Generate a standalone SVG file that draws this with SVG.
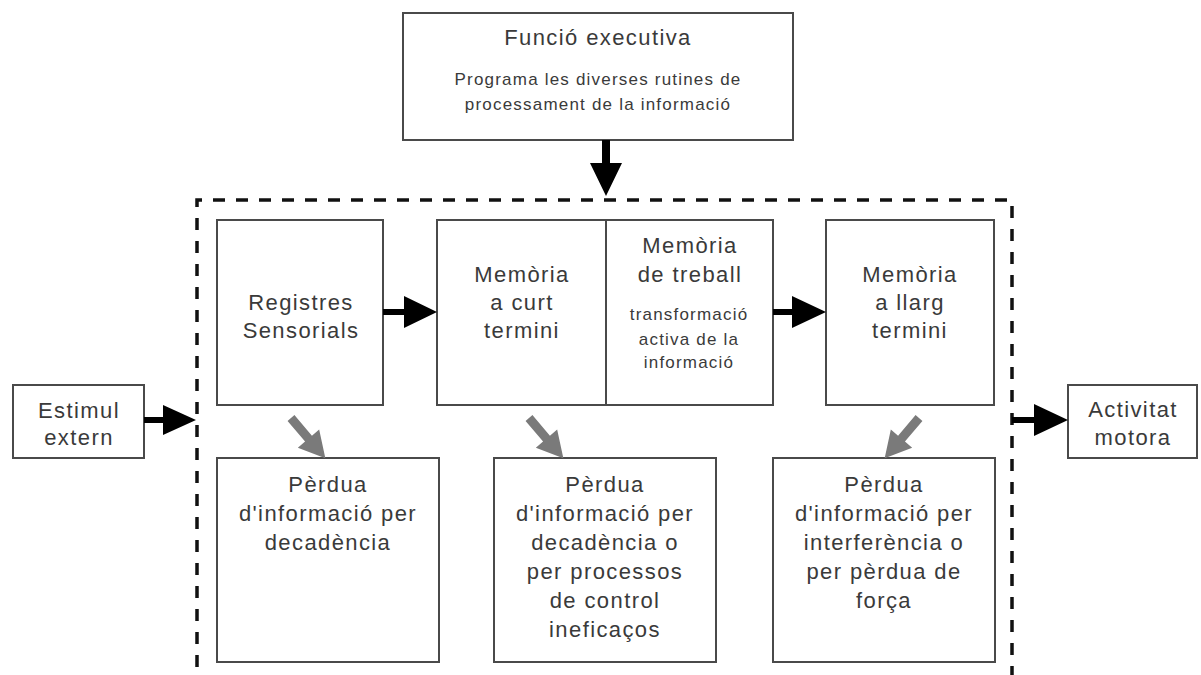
<svg xmlns="http://www.w3.org/2000/svg" width="1201" height="675" viewBox="0 0 1201 675">
<defs>
<style>
.box{fill:#fff;stroke:#4a4a4a;stroke-width:2}
.t{font-family:"Liberation Sans",Arial,sans-serif;font-size:22px;letter-spacing:1.4px;fill:#3a3a3a;text-anchor:middle}
.s{font-family:"Liberation Sans",Arial,sans-serif;font-size:17px;letter-spacing:1.2px;fill:#3a3a3a;text-anchor:middle}
.blk{fill:#000}
.gry{fill:#7a7a7a}
.dash{fill:none;stroke:#111;stroke-width:3.5;stroke-dasharray:12 11}
</style>
<path id="garrow" d="M0,-4.5 L27,-4.5 L27,-14 L53,0 L27,14 L27,4.5 L0,4.5 Z"/>
</defs>
<rect width="1201" height="675" fill="#fff"/>

<g id="container">
<path class="dash" d="M197,690 L197,200 L1012,200 L1012,690"/>
</g>

<g id="executive">
<rect class="box" x="403" y="13" width="390" height="127"/>
<text class="t" x="598" y="45">Funció executiva</text>
<text class="s" x="598" y="85">Programa les diverses rutines de</text>
<text class="s" x="598" y="110">processament de la informació</text>
</g>

<g id="stimulus">
<rect class="box" x="13" y="385" width="131" height="73"/>
<text class="t" x="79" y="418">Estimul</text>
<text class="t" x="79" y="445">extern</text>
</g>

<g id="motor">
<rect class="box" x="1068" y="385" width="129" height="73"/>
<text class="t" x="1133" y="417">Activitat</text>
<text class="t" x="1133" y="445">motora</text>
</g>

<g id="sensory">
<rect class="box" x="217" y="220" width="166" height="185"/>
<text class="t" x="301" y="310">Registres</text>
<text class="t" x="301" y="338">Sensorials</text>
</g>

<g id="short-term">
<rect class="box" x="437" y="220" width="169" height="185"/>
<text class="t" x="522" y="282">Memòria</text>
<text class="t" x="522" y="310">a curt</text>
<text class="t" x="522" y="338">termini</text>
</g>

<g id="working">
<rect class="box" x="606" y="220" width="167" height="185"/>
<text class="t" x="690" y="253">Memòria</text>
<text class="t" x="690" y="282">de treball</text>
<text class="s" x="689" y="320">transformació</text>
<text class="s" x="689" y="345">activa de la</text>
<text class="s" x="689" y="368">informació</text>
</g>

<g id="long-term">
<rect class="box" x="826" y="220" width="168" height="185"/>
<text class="t" x="910" y="282">Memòria</text>
<text class="t" x="910" y="310">a llarg</text>
<text class="t" x="910" y="338">termini</text>
</g>

<g id="loss1">
<rect class="box" x="217" y="458" width="222" height="204"/>
<text class="t" x="328" y="492">Pèrdua</text>
<text class="t" x="328" y="521">d'informació per</text>
<text class="t" x="328" y="550">decadència</text>
</g>

<g id="loss2">
<rect class="box" x="494" y="458" width="222" height="204"/>
<text class="t" x="605" y="492">Pèrdua</text>
<text class="t" x="605" y="521">d'informació per</text>
<text class="t" x="605" y="550">decadència o</text>
<text class="t" x="605" y="579">per processos</text>
<text class="t" x="605" y="608">de control</text>
<text class="t" x="605" y="637">ineficaços</text>
</g>

<g id="loss3">
<rect class="box" x="773" y="458" width="222" height="204"/>
<text class="t" x="884" y="492">Pèrdua</text>
<text class="t" x="884" y="521">d'informació per</text>
<text class="t" x="884" y="550">interferència o</text>
<text class="t" x="884" y="579">per pèrdua de</text>
<text class="t" x="884" y="608">força</text>
</g>

<g id="connectors">
<path class="blk" d="M602,140 L610,140 L610,163 L622,163 L606,196 L590,163 L602,163 Z"/>
<path class="blk" d="M144,417 L163,417 L163,405 L196,420 L163,435 L163,423 L144,423 Z"/>
<path class="blk" d="M383,309 L404,309 L404,296 L437,312 L404,328 L404,315 L383,315 Z"/>
<path class="blk" d="M773,309 L792,309 L792,296 L826,312 L792,328 L792,315 L773,315 Z"/>
<path class="blk" d="M1012,417 L1034,417 L1034,404 L1068,420 L1034,436 L1034,423 L1012,423 Z"/>
<use href="#garrow" class="gry" transform="translate(291,418) rotate(49.6)"/>
<use href="#garrow" class="gry" transform="translate(529,418) rotate(49.6)"/>
<use href="#garrow" class="gry" transform="translate(919,418) rotate(130.4)"/>
</g>
</svg>
